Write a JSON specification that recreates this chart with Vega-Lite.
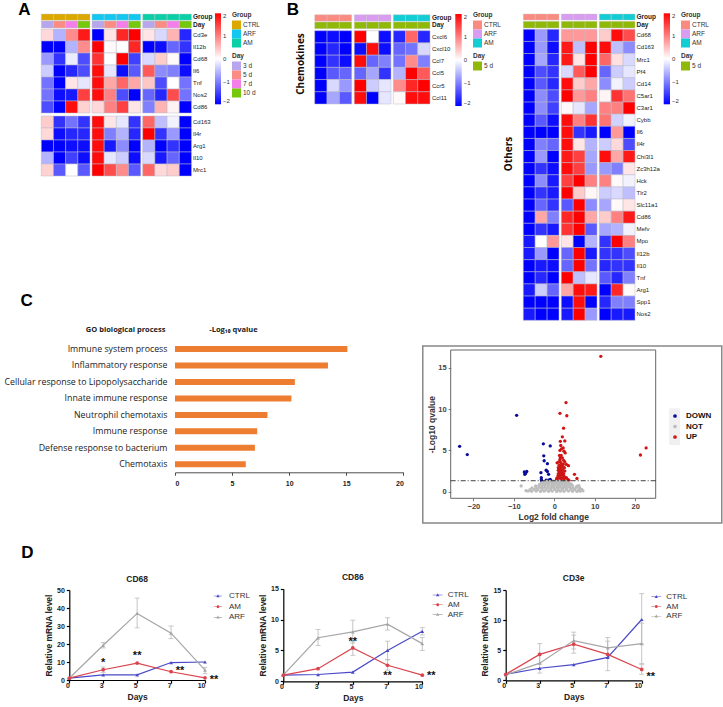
{"$schema":"https://vega.github.io/schema/vega-lite/v6.json","width":723,"height":707,"padding":0,"autosize":{"type":"fit","contains":"padding"},"background":"white",
"config":{"font":"Liberation Sans","view":{"stroke":null},"axis":{"grid":false,"tickColor":"#000","domainColor":"#000","domainWidth":1.2,"tickWidth":1.2,"tickSize":3,"labelFontSize":7,"labelFontWeight":"bold","titleFontSize":8.5,"titleFontWeight":"bold","labelPadding":2,"titlePadding":3,"labelColor":"#222","titleColor":"#222"},"legend":{"titleFontSize":6.5,"titleFontWeight":"bold","titleColor":"#333","labelFontSize":6.5,"labelColor":"#333","symbolType":"square","symbolSize":81,"rowPadding":0,"symbolStrokeWidth":0,"titlePadding":2,"symbolOpacity":1,"labelOffset":2,"gradientStrokeWidth":0}},
"datasets":{
"Acols":[{"group":"CTRL","day":"3 d"},{"group":"CTRL","day":"5 d"},{"group":"CTRL","day":"7 d"},{"group":"CTRL","day":"10 d"},{"group":"ARF","day":"3 d"},{"group":"ARF","day":"5 d"},{"group":"ARF","day":"7 d"},{"group":"ARF","day":"10 d"},{"group":"AM","day":"3 d"},{"group":"AM","day":"5 d"},{"group":"AM","day":"7 d"},{"group":"AM","day":"10 d"}],
"Bcols":[{"group":"CTRL","rep":1,"day":"5 d"},{"group":"CTRL","rep":2,"day":"5 d"},{"group":"CTRL","rep":3,"day":"5 d"},{"group":"ARF","rep":1,"day":"5 d"},{"group":"ARF","rep":2,"day":"5 d"},{"group":"ARF","rep":3,"day":"5 d"},{"group":"AM","rep":1,"day":"5 d"},{"group":"AM","rep":2,"day":"5 d"},{"group":"AM","rep":3,"day":"5 d"}],
"A1":[
{"gene":"Cd3e","group":"CTRL","day":"3 d","z":0.3},{"gene":"Cd3e","group":"CTRL","day":"5 d","z":-0.6},{"gene":"Cd3e","group":"CTRL","day":"7 d","z":0.9},{"gene":"Cd3e","group":"CTRL","day":"10 d","z":1.8},{"gene":"Cd3e","group":"ARF","day":"3 d","z":-2},{"gene":"Cd3e","group":"ARF","day":"5 d","z":0.2},{"gene":"Cd3e","group":"ARF","day":"7 d","z":1.7},{"gene":"Cd3e","group":"ARF","day":"10 d","z":2},{"gene":"Cd3e","group":"AM","day":"3 d","z":0.2},{"gene":"Cd3e","group":"AM","day":"5 d","z":-0.3},{"gene":"Cd3e","group":"AM","day":"7 d","z":0.6},{"gene":"Cd3e","group":"AM","day":"10 d","z":-1.7},
{"gene":"Il12b","group":"CTRL","day":"3 d","z":-2},{"gene":"Il12b","group":"CTRL","day":"5 d","z":-2},{"gene":"Il12b","group":"CTRL","day":"7 d","z":-0.6},{"gene":"Il12b","group":"CTRL","day":"10 d","z":0.9},{"gene":"Il12b","group":"ARF","day":"3 d","z":2},{"gene":"Il12b","group":"ARF","day":"5 d","z":0.05},{"gene":"Il12b","group":"ARF","day":"7 d","z":0},{"gene":"Il12b","group":"ARF","day":"10 d","z":1.7},{"gene":"Il12b","group":"AM","day":"3 d","z":-2},{"gene":"Il12b","group":"AM","day":"5 d","z":-1.9},{"gene":"Il12b","group":"AM","day":"7 d","z":-1.2},{"gene":"Il12b","group":"AM","day":"10 d","z":-1.6},
{"gene":"Cd68","group":"CTRL","day":"3 d","z":-0.8},{"gene":"Cd68","group":"CTRL","day":"5 d","z":-1.6},{"gene":"Cd68","group":"CTRL","day":"7 d","z":-0.15},{"gene":"Cd68","group":"CTRL","day":"10 d","z":-1.4},{"gene":"Cd68","group":"ARF","day":"3 d","z":1.6},{"gene":"Cd68","group":"ARF","day":"5 d","z":0},{"gene":"Cd68","group":"ARF","day":"7 d","z":2},{"gene":"Cd68","group":"ARF","day":"10 d","z":-1.5},{"gene":"Cd68","group":"AM","day":"3 d","z":-0.3},{"gene":"Cd68","group":"AM","day":"5 d","z":0.4},{"gene":"Cd68","group":"AM","day":"7 d","z":0.05},{"gene":"Cd68","group":"AM","day":"10 d","z":-2},
{"gene":"Il6","group":"CTRL","day":"3 d","z":-0.4},{"gene":"Il6","group":"CTRL","day":"5 d","z":-2},{"gene":"Il6","group":"CTRL","day":"7 d","z":-1.7},{"gene":"Il6","group":"CTRL","day":"10 d","z":-1.4},{"gene":"Il6","group":"ARF","day":"3 d","z":1.9},{"gene":"Il6","group":"ARF","day":"5 d","z":-0.2},{"gene":"Il6","group":"ARF","day":"7 d","z":-1.9},{"gene":"Il6","group":"ARF","day":"10 d","z":-1.3},{"gene":"Il6","group":"AM","day":"3 d","z":1.3},{"gene":"Il6","group":"AM","day":"5 d","z":-0.9},{"gene":"Il6","group":"AM","day":"7 d","z":-1},{"gene":"Il6","group":"AM","day":"10 d","z":-1.9},
{"gene":"Tnf","group":"CTRL","day":"3 d","z":-1.1},{"gene":"Tnf","group":"CTRL","day":"5 d","z":-2},{"gene":"Tnf","group":"CTRL","day":"7 d","z":0.2},{"gene":"Tnf","group":"CTRL","day":"10 d","z":-0.2},{"gene":"Tnf","group":"ARF","day":"3 d","z":1.9},{"gene":"Tnf","group":"ARF","day":"5 d","z":0.7},{"gene":"Tnf","group":"ARF","day":"7 d","z":1.2},{"gene":"Tnf","group":"ARF","day":"10 d","z":0.7},{"gene":"Tnf","group":"AM","day":"3 d","z":0.45},{"gene":"Tnf","group":"AM","day":"5 d","z":-1.4},{"gene":"Tnf","group":"AM","day":"7 d","z":0},{"gene":"Tnf","group":"AM","day":"10 d","z":-1.1},
{"gene":"Nos2","group":"CTRL","day":"3 d","z":-1.1},{"gene":"Nos2","group":"CTRL","day":"5 d","z":-1.9},{"gene":"Nos2","group":"CTRL","day":"7 d","z":-1.8},{"gene":"Nos2","group":"CTRL","day":"10 d","z":1.5},{"gene":"Nos2","group":"ARF","day":"3 d","z":1.9},{"gene":"Nos2","group":"ARF","day":"5 d","z":1},{"gene":"Nos2","group":"ARF","day":"7 d","z":-1.4},{"gene":"Nos2","group":"ARF","day":"10 d","z":-2},{"gene":"Nos2","group":"AM","day":"3 d","z":-1.2},{"gene":"Nos2","group":"AM","day":"5 d","z":-1.7},{"gene":"Nos2","group":"AM","day":"7 d","z":1.4},{"gene":"Nos2","group":"AM","day":"10 d","z":-1.1},
{"gene":"Cd86","group":"CTRL","day":"3 d","z":-1.4},{"gene":"Cd86","group":"CTRL","day":"5 d","z":-2},{"gene":"Cd86","group":"CTRL","day":"7 d","z":1.9},{"gene":"Cd86","group":"CTRL","day":"10 d","z":0.35},{"gene":"Cd86","group":"ARF","day":"3 d","z":0.3},{"gene":"Cd86","group":"ARF","day":"5 d","z":1},{"gene":"Cd86","group":"ARF","day":"7 d","z":1.5},{"gene":"Cd86","group":"ARF","day":"10 d","z":0.2},{"gene":"Cd86","group":"AM","day":"3 d","z":-1},{"gene":"Cd86","group":"AM","day":"5 d","z":0.6},{"gene":"Cd86","group":"AM","day":"7 d","z":0.1},{"gene":"Cd86","group":"AM","day":"10 d","z":-2}],
"A2":[
{"gene":"Cd163","group":"CTRL","day":"3 d","z":0.4},{"gene":"Cd163","group":"CTRL","day":"5 d","z":-1.6},{"gene":"Cd163","group":"CTRL","day":"7 d","z":-1.1},{"gene":"Cd163","group":"CTRL","day":"10 d","z":-1.6},{"gene":"Cd163","group":"ARF","day":"3 d","z":1.9},{"gene":"Cd163","group":"ARF","day":"5 d","z":0.2},{"gene":"Cd163","group":"ARF","day":"7 d","z":-0.2},{"gene":"Cd163","group":"ARF","day":"10 d","z":-1.6},{"gene":"Cd163","group":"AM","day":"3 d","z":1.2},{"gene":"Cd163","group":"AM","day":"5 d","z":-0.5},{"gene":"Cd163","group":"AM","day":"7 d","z":-0.1},{"gene":"Cd163","group":"AM","day":"10 d","z":-2},
{"gene":"Il4r","group":"CTRL","day":"3 d","z":0.3},{"gene":"Il4r","group":"CTRL","day":"5 d","z":-1.9},{"gene":"Il4r","group":"CTRL","day":"7 d","z":-1.7},{"gene":"Il4r","group":"CTRL","day":"10 d","z":-1.7},{"gene":"Il4r","group":"ARF","day":"3 d","z":1.9},{"gene":"Il4r","group":"ARF","day":"5 d","z":-1},{"gene":"Il4r","group":"ARF","day":"7 d","z":-0.6},{"gene":"Il4r","group":"ARF","day":"10 d","z":-1.7},{"gene":"Il4r","group":"AM","day":"3 d","z":2},{"gene":"Il4r","group":"AM","day":"5 d","z":-1.6},{"gene":"Il4r","group":"AM","day":"7 d","z":-0.8},{"gene":"Il4r","group":"AM","day":"10 d","z":-2},
{"gene":"Arg1","group":"CTRL","day":"3 d","z":-2},{"gene":"Arg1","group":"CTRL","day":"5 d","z":-2},{"gene":"Arg1","group":"CTRL","day":"7 d","z":-1.9},{"gene":"Arg1","group":"CTRL","day":"10 d","z":-1.9},{"gene":"Arg1","group":"ARF","day":"3 d","z":1.9},{"gene":"Arg1","group":"ARF","day":"5 d","z":-1.8},{"gene":"Arg1","group":"ARF","day":"7 d","z":-0.9},{"gene":"Arg1","group":"ARF","day":"10 d","z":-2},{"gene":"Arg1","group":"AM","day":"3 d","z":-0.6},{"gene":"Arg1","group":"AM","day":"5 d","z":-2},{"gene":"Arg1","group":"AM","day":"7 d","z":-1.6},{"gene":"Arg1","group":"AM","day":"10 d","z":-2},
{"gene":"Il10","group":"CTRL","day":"3 d","z":-0.6},{"gene":"Il10","group":"CTRL","day":"5 d","z":-2},{"gene":"Il10","group":"CTRL","day":"7 d","z":-1.5},{"gene":"Il10","group":"CTRL","day":"10 d","z":-1.9},{"gene":"Il10","group":"ARF","day":"3 d","z":1.9},{"gene":"Il10","group":"ARF","day":"5 d","z":-0.2},{"gene":"Il10","group":"ARF","day":"7 d","z":-0.4},{"gene":"Il10","group":"ARF","day":"10 d","z":-1.9},{"gene":"Il10","group":"AM","day":"3 d","z":-0.3},{"gene":"Il10","group":"AM","day":"5 d","z":-1.8},{"gene":"Il10","group":"AM","day":"7 d","z":-1.2},{"gene":"Il10","group":"AM","day":"10 d","z":-2},
{"gene":"Mrc1","group":"CTRL","day":"3 d","z":0.35},{"gene":"Mrc1","group":"CTRL","day":"5 d","z":-1.3},{"gene":"Mrc1","group":"CTRL","day":"7 d","z":0},{"gene":"Mrc1","group":"CTRL","day":"10 d","z":-1.3},{"gene":"Mrc1","group":"ARF","day":"3 d","z":2},{"gene":"Mrc1","group":"ARF","day":"5 d","z":1.4},{"gene":"Mrc1","group":"ARF","day":"7 d","z":0.9},{"gene":"Mrc1","group":"ARF","day":"10 d","z":-1.3},{"gene":"Mrc1","group":"AM","day":"3 d","z":1.2},{"gene":"Mrc1","group":"AM","day":"5 d","z":0.3},{"gene":"Mrc1","group":"AM","day":"7 d","z":0.4},{"gene":"Mrc1","group":"AM","day":"10 d","z":-2}],
"Chem":[
{"gene":"Cxcl6","group":"CTRL","rep":1,"z":-2},{"gene":"Cxcl6","group":"CTRL","rep":2,"z":-1.9},{"gene":"Cxcl6","group":"CTRL","rep":3,"z":-2},{"gene":"Cxcl6","group":"ARF","rep":1,"z":2},{"gene":"Cxcl6","group":"ARF","rep":2,"z":0},{"gene":"Cxcl6","group":"ARF","rep":3,"z":-1.9},{"gene":"Cxcl6","group":"AM","rep":1,"z":-1.7},{"gene":"Cxcl6","group":"AM","rep":2,"z":1.2},{"gene":"Cxcl6","group":"AM","rep":3,"z":-1.7},
{"gene":"Cxcl10","group":"CTRL","rep":1,"z":-2},{"gene":"Cxcl10","group":"CTRL","rep":2,"z":-1.7},{"gene":"Cxcl10","group":"CTRL","rep":3,"z":-2},{"gene":"Cxcl10","group":"ARF","rep":1,"z":-1.9},{"gene":"Cxcl10","group":"ARF","rep":2,"z":1.9},{"gene":"Cxcl10","group":"ARF","rep":3,"z":-1.9},{"gene":"Cxcl10","group":"AM","rep":1,"z":-1.2},{"gene":"Cxcl10","group":"AM","rep":2,"z":-1.1},{"gene":"Cxcl10","group":"AM","rep":3,"z":-0.3},
{"gene":"Ccl7","group":"CTRL","rep":1,"z":-2},{"gene":"Ccl7","group":"CTRL","rep":2,"z":-1.6},{"gene":"Ccl7","group":"CTRL","rep":3,"z":-1.9},{"gene":"Ccl7","group":"ARF","rep":1,"z":1.9},{"gene":"Ccl7","group":"ARF","rep":2,"z":-1.2},{"gene":"Ccl7","group":"ARF","rep":3,"z":-1},{"gene":"Ccl7","group":"AM","rep":1,"z":-1.1},{"gene":"Ccl7","group":"AM","rep":2,"z":0.9},{"gene":"Ccl7","group":"AM","rep":3,"z":-1},
{"gene":"Ccl5","group":"CTRL","rep":1,"z":-2},{"gene":"Ccl5","group":"CTRL","rep":2,"z":-1.3},{"gene":"Ccl5","group":"CTRL","rep":3,"z":-1.2},{"gene":"Ccl5","group":"ARF","rep":1,"z":-1.2},{"gene":"Ccl5","group":"ARF","rep":2,"z":-0.7},{"gene":"Ccl5","group":"ARF","rep":3,"z":-1.6},{"gene":"Ccl5","group":"AM","rep":1,"z":-0.6},{"gene":"Ccl5","group":"AM","rep":2,"z":2},{"gene":"Ccl5","group":"AM","rep":3,"z":1.3},
{"gene":"Ccr5","group":"CTRL","rep":1,"z":-2},{"gene":"Ccr5","group":"CTRL","rep":2,"z":-0.3},{"gene":"Ccr5","group":"CTRL","rep":3,"z":-0.8},{"gene":"Ccr5","group":"ARF","rep":1,"z":2},{"gene":"Ccr5","group":"ARF","rep":2,"z":-0.4},{"gene":"Ccr5","group":"ARF","rep":3,"z":-0.2},{"gene":"Ccr5","group":"AM","rep":1,"z":0.9},{"gene":"Ccr5","group":"AM","rep":2,"z":1.7},{"gene":"Ccr5","group":"AM","rep":3,"z":2},
{"gene":"Ccl11","group":"CTRL","rep":1,"z":-2},{"gene":"Ccl11","group":"CTRL","rep":2,"z":-0.7},{"gene":"Ccl11","group":"CTRL","rep":3,"z":-1.3},{"gene":"Ccl11","group":"ARF","rep":1,"z":1.9},{"gene":"Ccl11","group":"ARF","rep":2,"z":-2},{"gene":"Ccl11","group":"ARF","rep":3,"z":-0.2},{"gene":"Ccl11","group":"AM","rep":1,"z":0.05},{"gene":"Ccl11","group":"AM","rep":2,"z":1.9},{"gene":"Ccl11","group":"AM","rep":3,"z":1.9}],
"Oth":[
{"gene":"Cd68","group":"CTRL","rep":1,"z":-2},{"gene":"Cd68","group":"CTRL","rep":2,"z":-0.8},{"gene":"Cd68","group":"CTRL","rep":3,"z":-1.7},{"gene":"Cd68","group":"ARF","rep":1,"z":0.8},{"gene":"Cd68","group":"ARF","rep":2,"z":0.8},{"gene":"Cd68","group":"ARF","rep":3,"z":0.8},{"gene":"Cd68","group":"AM","rep":1,"z":0.4},{"gene":"Cd68","group":"AM","rep":2,"z":1.9},{"gene":"Cd68","group":"AM","rep":3,"z":1.4},
{"gene":"Cd163","group":"CTRL","rep":1,"z":-2},{"gene":"Cd163","group":"CTRL","rep":2,"z":-0.8},{"gene":"Cd163","group":"CTRL","rep":3,"z":-1.9},{"gene":"Cd163","group":"ARF","rep":1,"z":1.8},{"gene":"Cd163","group":"ARF","rep":2,"z":-0.5},{"gene":"Cd163","group":"ARF","rep":3,"z":2},{"gene":"Cd163","group":"AM","rep":1,"z":1.9},{"gene":"Cd163","group":"AM","rep":2,"z":-0.5},{"gene":"Cd163","group":"AM","rep":3,"z":-0.9},
{"gene":"Mrc1","group":"CTRL","rep":1,"z":-2},{"gene":"Mrc1","group":"CTRL","rep":2,"z":-0.7},{"gene":"Mrc1","group":"CTRL","rep":3,"z":-1.7},{"gene":"Mrc1","group":"ARF","rep":1,"z":1.8},{"gene":"Mrc1","group":"ARF","rep":2,"z":0.2},{"gene":"Mrc1","group":"ARF","rep":3,"z":2},{"gene":"Mrc1","group":"AM","rep":1,"z":1.2},{"gene":"Mrc1","group":"AM","rep":2,"z":0.25},{"gene":"Mrc1","group":"AM","rep":3,"z":-0.3},
{"gene":"Pf4","group":"CTRL","rep":1,"z":-2},{"gene":"Pf4","group":"CTRL","rep":2,"z":-1.4},{"gene":"Pf4","group":"CTRL","rep":3,"z":-1.6},{"gene":"Pf4","group":"ARF","rep":1,"z":-0.3},{"gene":"Pf4","group":"ARF","rep":2,"z":1.3},{"gene":"Pf4","group":"ARF","rep":3,"z":2},{"gene":"Pf4","group":"AM","rep":1,"z":-1.2},{"gene":"Pf4","group":"AM","rep":2,"z":-0.4},{"gene":"Pf4","group":"AM","rep":3,"z":-0.2},
{"gene":"Cd14","group":"CTRL","rep":1,"z":-2},{"gene":"Cd14","group":"CTRL","rep":2,"z":-1.3},{"gene":"Cd14","group":"CTRL","rep":3,"z":-1.7},{"gene":"Cd14","group":"ARF","rep":1,"z":1.9},{"gene":"Cd14","group":"ARF","rep":2,"z":0.4},{"gene":"Cd14","group":"ARF","rep":3,"z":0.7},{"gene":"Cd14","group":"AM","rep":1,"z":-0.9},{"gene":"Cd14","group":"AM","rep":2,"z":-0.1},{"gene":"Cd14","group":"AM","rep":3,"z":-0.4},
{"gene":"C5ar1","group":"CTRL","rep":1,"z":-2},{"gene":"C5ar1","group":"CTRL","rep":2,"z":-0.9},{"gene":"C5ar1","group":"CTRL","rep":3,"z":-1.4},{"gene":"C5ar1","group":"ARF","rep":1,"z":2},{"gene":"C5ar1","group":"ARF","rep":2,"z":0.8},{"gene":"C5ar1","group":"ARF","rep":3,"z":1},{"gene":"C5ar1","group":"AM","rep":1,"z":0.08},{"gene":"C5ar1","group":"AM","rep":2,"z":1.6},{"gene":"C5ar1","group":"AM","rep":3,"z":1.1},
{"gene":"C3ar1","group":"CTRL","rep":1,"z":-2},{"gene":"C3ar1","group":"CTRL","rep":2,"z":-0.9},{"gene":"C3ar1","group":"CTRL","rep":3,"z":-1.5},{"gene":"C3ar1","group":"ARF","rep":1,"z":0.05},{"gene":"C3ar1","group":"ARF","rep":2,"z":-0.2},{"gene":"C3ar1","group":"ARF","rep":3,"z":-0.7},{"gene":"C3ar1","group":"AM","rep":1,"z":1},{"gene":"C3ar1","group":"AM","rep":2,"z":1},{"gene":"C3ar1","group":"AM","rep":3,"z":2},
{"gene":"Cybb","group":"CTRL","rep":1,"z":-2},{"gene":"Cybb","group":"CTRL","rep":2,"z":-1.3},{"gene":"Cybb","group":"CTRL","rep":3,"z":-1.9},{"gene":"Cybb","group":"ARF","rep":1,"z":1.9},{"gene":"Cybb","group":"ARF","rep":2,"z":1},{"gene":"Cybb","group":"ARF","rep":3,"z":1.6},{"gene":"Cybb","group":"AM","rep":1,"z":1.1},{"gene":"Cybb","group":"AM","rep":2,"z":-0.35},{"gene":"Cybb","group":"AM","rep":3,"z":-0.1},
{"gene":"Il6","group":"CTRL","rep":1,"z":-2},{"gene":"Il6","group":"CTRL","rep":2,"z":-2},{"gene":"Il6","group":"CTRL","rep":3,"z":-2},{"gene":"Il6","group":"ARF","rep":1,"z":1.9},{"gene":"Il6","group":"ARF","rep":2,"z":-1.6},{"gene":"Il6","group":"ARF","rep":3,"z":-1.8},{"gene":"Il6","group":"AM","rep":1,"z":-2},{"gene":"Il6","group":"AM","rep":2,"z":0.8},{"gene":"Il6","group":"AM","rep":3,"z":-2},
{"gene":"Il4r","group":"CTRL","rep":1,"z":-2},{"gene":"Il4r","group":"CTRL","rep":2,"z":-1},{"gene":"Il4r","group":"CTRL","rep":3,"z":-1.2},{"gene":"Il4r","group":"ARF","rep":1,"z":1.9},{"gene":"Il4r","group":"ARF","rep":2,"z":0.2},{"gene":"Il4r","group":"ARF","rep":3,"z":-0.6},{"gene":"Il4r","group":"AM","rep":1,"z":-0.4},{"gene":"Il4r","group":"AM","rep":2,"z":0.3},{"gene":"Il4r","group":"AM","rep":3,"z":-1.4},
{"gene":"Chi3l1","group":"CTRL","rep":1,"z":-2},{"gene":"Chi3l1","group":"CTRL","rep":2,"z":-0.8},{"gene":"Chi3l1","group":"CTRL","rep":3,"z":-2},{"gene":"Chi3l1","group":"ARF","rep":1,"z":1.8},{"gene":"Chi3l1","group":"ARF","rep":2,"z":1.5},{"gene":"Chi3l1","group":"ARF","rep":3,"z":-0.7},{"gene":"Chi3l1","group":"AM","rep":1,"z":1.9},{"gene":"Chi3l1","group":"AM","rep":2,"z":0.7},{"gene":"Chi3l1","group":"AM","rep":3,"z":1.8},
{"gene":"Zc3h12a","group":"CTRL","rep":1,"z":-2},{"gene":"Zc3h12a","group":"CTRL","rep":2,"z":-1.6},{"gene":"Zc3h12a","group":"CTRL","rep":3,"z":-1.9},{"gene":"Zc3h12a","group":"ARF","rep":1,"z":1.9},{"gene":"Zc3h12a","group":"ARF","rep":2,"z":1.5},{"gene":"Zc3h12a","group":"ARF","rep":3,"z":-0.8},{"gene":"Zc3h12a","group":"AM","rep":1,"z":-0.8},{"gene":"Zc3h12a","group":"AM","rep":2,"z":-1},{"gene":"Zc3h12a","group":"AM","rep":3,"z":0.2},
{"gene":"Hck","group":"CTRL","rep":1,"z":-2},{"gene":"Hck","group":"CTRL","rep":2,"z":-0.9},{"gene":"Hck","group":"CTRL","rep":3,"z":-1.8},{"gene":"Hck","group":"ARF","rep":1,"z":1.5},{"gene":"Hck","group":"ARF","rep":2,"z":2},{"gene":"Hck","group":"ARF","rep":3,"z":1},{"gene":"Hck","group":"AM","rep":1,"z":1},{"gene":"Hck","group":"AM","rep":2,"z":0.05},{"gene":"Hck","group":"AM","rep":3,"z":-0.1},
{"gene":"Tlr2","group":"CTRL","rep":1,"z":-2},{"gene":"Tlr2","group":"CTRL","rep":2,"z":-1.6},{"gene":"Tlr2","group":"CTRL","rep":3,"z":-1.8},{"gene":"Tlr2","group":"ARF","rep":1,"z":2},{"gene":"Tlr2","group":"ARF","rep":2,"z":0.4},{"gene":"Tlr2","group":"ARF","rep":3,"z":0.07},{"gene":"Tlr2","group":"AM","rep":1,"z":-0.4},{"gene":"Tlr2","group":"AM","rep":2,"z":-0.3},{"gene":"Tlr2","group":"AM","rep":3,"z":-0.5},
{"gene":"Slc11a1","group":"CTRL","rep":1,"z":-2},{"gene":"Slc11a1","group":"CTRL","rep":2,"z":-1.2},{"gene":"Slc11a1","group":"CTRL","rep":3,"z":-1.6},{"gene":"Slc11a1","group":"ARF","rep":1,"z":-1.3},{"gene":"Slc11a1","group":"ARF","rep":2,"z":2},{"gene":"Slc11a1","group":"ARF","rep":3,"z":-0.9},{"gene":"Slc11a1","group":"AM","rep":1,"z":-0.7},{"gene":"Slc11a1","group":"AM","rep":2,"z":0.05},{"gene":"Slc11a1","group":"AM","rep":3,"z":0.2},
{"gene":"Cd86","group":"CTRL","rep":1,"z":-2},{"gene":"Cd86","group":"CTRL","rep":2,"z":0.7},{"gene":"Cd86","group":"CTRL","rep":3,"z":-1},{"gene":"Cd86","group":"ARF","rep":1,"z":1.7},{"gene":"Cd86","group":"ARF","rep":2,"z":2},{"gene":"Cd86","group":"ARF","rep":3,"z":0.7},{"gene":"Cd86","group":"AM","rep":1,"z":0.4},{"gene":"Cd86","group":"AM","rep":2,"z":1},{"gene":"Cd86","group":"AM","rep":3,"z":1.8},
{"gene":"Mefv","group":"CTRL","rep":1,"z":-2},{"gene":"Mefv","group":"CTRL","rep":2,"z":-1.6},{"gene":"Mefv","group":"CTRL","rep":3,"z":-1.8},{"gene":"Mefv","group":"ARF","rep":1,"z":1.6},{"gene":"Mefv","group":"ARF","rep":2,"z":2},{"gene":"Mefv","group":"ARF","rep":3,"z":-1.3},{"gene":"Mefv","group":"AM","rep":1,"z":-0.7},{"gene":"Mefv","group":"AM","rep":2,"z":-0.6},{"gene":"Mefv","group":"AM","rep":3,"z":-0.1},
{"gene":"Mpo","group":"CTRL","rep":1,"z":-1.8},{"gene":"Mpo","group":"CTRL","rep":2,"z":0},{"gene":"Mpo","group":"CTRL","rep":3,"z":0.8},{"gene":"Mpo","group":"ARF","rep":1,"z":0.2},{"gene":"Mpo","group":"ARF","rep":2,"z":-2},{"gene":"Mpo","group":"ARF","rep":3,"z":-0.6},{"gene":"Mpo","group":"AM","rep":1,"z":-1.6},{"gene":"Mpo","group":"AM","rep":2,"z":2},{"gene":"Mpo","group":"AM","rep":3,"z":1},
{"gene":"Il12b","group":"CTRL","rep":1,"z":-1.8},{"gene":"Il12b","group":"CTRL","rep":2,"z":-0.8},{"gene":"Il12b","group":"CTRL","rep":3,"z":-2},{"gene":"Il12b","group":"ARF","rep":1,"z":-1.2},{"gene":"Il12b","group":"ARF","rep":2,"z":2},{"gene":"Il12b","group":"ARF","rep":3,"z":-1.8},{"gene":"Il12b","group":"AM","rep":1,"z":-1.6},{"gene":"Il12b","group":"AM","rep":2,"z":-1.6},{"gene":"Il12b","group":"AM","rep":3,"z":-1.4},
{"gene":"Il10","group":"CTRL","rep":1,"z":-2},{"gene":"Il10","group":"CTRL","rep":2,"z":-1.8},{"gene":"Il10","group":"CTRL","rep":3,"z":-1.9},{"gene":"Il10","group":"ARF","rep":1,"z":-1.2},{"gene":"Il10","group":"ARF","rep":2,"z":2},{"gene":"Il10","group":"ARF","rep":3,"z":-1.1},{"gene":"Il10","group":"AM","rep":1,"z":-1.7},{"gene":"Il10","group":"AM","rep":2,"z":-1.6},{"gene":"Il10","group":"AM","rep":3,"z":-1.6},
{"gene":"Tnf","group":"CTRL","rep":1,"z":-2},{"gene":"Tnf","group":"CTRL","rep":2,"z":-1.7},{"gene":"Tnf","group":"CTRL","rep":3,"z":-2},{"gene":"Tnf","group":"ARF","rep":1,"z":2},{"gene":"Tnf","group":"ARF","rep":2,"z":-0.5},{"gene":"Tnf","group":"ARF","rep":3,"z":-0.2},{"gene":"Tnf","group":"AM","rep":1,"z":-1.3},{"gene":"Tnf","group":"AM","rep":2,"z":-1.7},{"gene":"Tnf","group":"AM","rep":3,"z":-1},
{"gene":"Arg1","group":"CTRL","rep":1,"z":-1.8},{"gene":"Arg1","group":"CTRL","rep":2,"z":-0.4},{"gene":"Arg1","group":"CTRL","rep":3,"z":-1.2},{"gene":"Arg1","group":"ARF","rep":1,"z":0.7},{"gene":"Arg1","group":"ARF","rep":2,"z":1.9},{"gene":"Arg1","group":"ARF","rep":3,"z":1.8},{"gene":"Arg1","group":"AM","rep":1,"z":-2},{"gene":"Arg1","group":"AM","rep":2,"z":1.7},{"gene":"Arg1","group":"AM","rep":3,"z":0.05},
{"gene":"Spp1","group":"CTRL","rep":1,"z":-2},{"gene":"Spp1","group":"CTRL","rep":2,"z":-2},{"gene":"Spp1","group":"CTRL","rep":3,"z":-2},{"gene":"Spp1","group":"ARF","rep":1,"z":-1.9},{"gene":"Spp1","group":"ARF","rep":2,"z":1.9},{"gene":"Spp1","group":"ARF","rep":3,"z":-2},{"gene":"Spp1","group":"AM","rep":1,"z":-1.7},{"gene":"Spp1","group":"AM","rep":2,"z":-1},{"gene":"Spp1","group":"AM","rep":3,"z":-1},
{"gene":"Nos2","group":"CTRL","rep":1,"z":-1.8},{"gene":"Nos2","group":"CTRL","rep":2,"z":-2},{"gene":"Nos2","group":"CTRL","rep":3,"z":-2},{"gene":"Nos2","group":"ARF","rep":1,"z":-1.8},{"gene":"Nos2","group":"ARF","rep":2,"z":2},{"gene":"Nos2","group":"ARF","rep":3,"z":-0.8},{"gene":"Nos2","group":"AM","rep":1,"z":-2},{"gene":"Nos2","group":"AM","rep":2,"z":-1.8},{"gene":"Nos2","group":"AM","rep":3,"z":-1.8}],
"volcano":[
{"fc":11.5,"q":16.4,"status":"UP"},{"fc":2.9,"q":10.8,"status":"UP"},{"fc":1.4,"q":9.5,"status":"UP"},{"fc":3.1,"q":9.2,"status":"UP"},{"fc":2.3,"q":7.7,"status":"UP"},{"fc":2.0,"q":6.65,"status":"UP"},{"fc":1.5,"q":6.1,"status":"UP"},{"fc":2.6,"q":6.15,"status":"UP"},{"fc":21.3,"q":4.45,"status":"UP"},{"fc":22.7,"q":5.3,"status":"UP"},{"fc":1.6,"q":5.6,"status":"UP"},{"fc":1.8,"q":5.2,"status":"UP"},{"fc":2.2,"q":5.3,"status":"UP"},{"fc":2.4,"q":4.9,"status":"UP"},{"fc":2.7,"q":4.7,"status":"UP"},{"fc":1.4,"q":5.0,"status":"UP"},{"fc":1.3,"q":4.4,"status":"UP"},{"fc":1.5,"q":4.1,"status":"UP"},{"fc":2.0,"q":4.1,"status":"UP"},{"fc":2.3,"q":3.8,"status":"UP"},{"fc":2.6,"q":3.6,"status":"UP"},{"fc":3.0,"q":3.3,"status":"UP"},{"fc":3.5,"q":3.15,"status":"UP"},{"fc":0.7,"q":3.5,"status":"UP"},{"fc":1.1,"q":3.6,"status":"UP"},{"fc":1.5,"q":3.6,"status":"UP"},{"fc":1.8,"q":3.4,"status":"UP"},{"fc":2.2,"q":3.3,"status":"UP"},{"fc":1.2,"q":3.2,"status":"UP"},{"fc":1.6,"q":3.1,"status":"UP"},{"fc":2.0,"q":3.0,"status":"UP"},{"fc":2.5,"q":2.9,"status":"UP"},{"fc":1.0,"q":2.9,"status":"UP"},{"fc":1.4,"q":2.8,"status":"UP"},{"fc":1.7,"q":2.7,"status":"UP"},{"fc":2.1,"q":2.6,"status":"UP"},{"fc":2.6,"q":2.5,"status":"UP"},{"fc":1.2,"q":2.5,"status":"UP"},{"fc":1.5,"q":2.4,"status":"UP"},{"fc":1.9,"q":2.3,"status":"UP"},{"fc":2.3,"q":2.2,"status":"UP"},{"fc":1.0,"q":2.2,"status":"UP"},{"fc":1.3,"q":2.1,"status":"UP"},{"fc":1.6,"q":2.0,"status":"UP"},{"fc":2.0,"q":2.0,"status":"UP"},{"fc":2.4,"q":1.9,"status":"UP"},{"fc":0.9,"q":1.9,"status":"UP"},{"fc":1.2,"q":1.8,"status":"UP"},{"fc":1.5,"q":1.7,"status":"UP"},{"fc":1.8,"q":1.6,"status":"UP"},{"fc":2.2,"q":1.6,"status":"UP"},{"fc":2.6,"q":1.7,"status":"UP"},{"fc":3.0,"q":1.7,"status":"UP"},{"fc":0.6,"q":1.6,"status":"UP"},{"fc":0.9,"q":1.5,"status":"UP"},{"fc":1.3,"q":1.45,"status":"UP"},{"fc":1.7,"q":1.4,"status":"UP"},{"fc":2.1,"q":1.4,"status":"UP"},{"fc":2.5,"q":1.4,"status":"UP"},{"fc":3.0,"q":1.4,"status":"UP"},{"fc":3.3,"q":1.5,"status":"UP"},{"fc":5.0,"q":2.1,"status":"UP"},{"fc":5.6,"q":1.6,"status":"UP"},{"fc":0.5,"q":1.4,"status":"UP"},{"fc":1.1,"q":1.35,"status":"UP"},{"fc":3.6,"q":1.4,"status":"UP"},{"fc":1.0,"q":2.6,"status":"UP"},{"fc":1.8,"q":3.0,"status":"UP"},{"fc":1.4,"q":3.9,"status":"UP"},{"fc":1.7,"q":4.4,"status":"UP"},
{"fc":-23.4,"q":5.5,"status":"DOWN"},{"fc":-21.5,"q":4.5,"status":"DOWN"},{"fc":-9.3,"q":9.25,"status":"DOWN"},{"fc":-2.7,"q":5.8,"status":"DOWN"},{"fc":-1.0,"q":5.55,"status":"DOWN"},{"fc":-2.6,"q":4.35,"status":"DOWN"},{"fc":-2.5,"q":3.75,"status":"DOWN"},{"fc":-1.7,"q":3.4,"status":"DOWN"},{"fc":-7.4,"q":2.4,"status":"DOWN"},{"fc":-6.8,"q":2.45,"status":"DOWN"},{"fc":-7.3,"q":2.1,"status":"DOWN"},{"fc":-7.1,"q":2.2,"status":"DOWN"},{"fc":-3.3,"q":2.3,"status":"DOWN"},{"fc":-2.0,"q":2.6,"status":"DOWN"},{"fc":-1.7,"q":2.45,"status":"DOWN"},{"fc":-1.4,"q":2.1,"status":"DOWN"},{"fc":-3.2,"q":1.7,"status":"DOWN"},{"fc":-3.2,"q":1.45,"status":"DOWN"},{"fc":-3.1,"q":1.3,"status":"DOWN"},{"fc":-2.0,"q":1.4,"status":"DOWN"},{"fc":-1.0,"q":1.5,"status":"DOWN"},{"fc":-1.5,"q":1.4,"status":"DOWN"},{"fc":-0.8,"q":1.35,"status":"DOWN"},
{"fc":-6.5,"q":0.07,"status":"NOT"},{"fc":-5.6,"q":0.04,"status":"NOT"},{"fc":-4.5,"q":0.08,"status":"NOT"},{"fc":-3.4,"q":0.03,"status":"NOT"},{"fc":-2.5,"q":0.06,"status":"NOT"},{"fc":-1.4,"q":0.05,"status":"NOT"},{"fc":-0.5,"q":0.07,"status":"NOT"},{"fc":0.6,"q":0.03,"status":"NOT"},{"fc":1.5,"q":0.06,"status":"NOT"},{"fc":2.4,"q":0.04,"status":"NOT"},{"fc":3.5,"q":0.08,"status":"NOT"},{"fc":4.5,"q":0.05,"status":"NOT"},{"fc":5.6,"q":0.03,"status":"NOT"},{"fc":6.4,"q":0.06,"status":"NOT"},{"fc":7.1,"q":0.1,"status":"NOT"},
{"fc":-7.0,"q":0.12,"status":"NOT"},{"fc":-6.0,"q":0.24,"status":"NOT"},{"fc":-5.0,"q":0.28,"status":"NOT"},{"fc":-4.1,"q":0.25,"status":"NOT"},{"fc":-3.0,"q":0.3,"status":"NOT"},{"fc":-2.0,"q":0.26,"status":"NOT"},{"fc":-1.0,"q":0.24,"status":"NOT"},{"fc":0.1,"q":0.28,"status":"NOT"},{"fc":1.0,"q":0.25,"status":"NOT"},{"fc":2.0,"q":0.3,"status":"NOT"},{"fc":3.0,"q":0.26,"status":"NOT"},{"fc":4.1,"q":0.28,"status":"NOT"},{"fc":5.0,"q":0.25,"status":"NOT"},{"fc":6.0,"q":0.22,"status":"NOT"},{"fc":6.8,"q":0.28,"status":"NOT"},
{"fc":-5.5,"q":0.46,"status":"NOT"},{"fc":-4.5,"q":0.5,"status":"NOT"},{"fc":-3.7,"q":0.52,"status":"NOT"},{"fc":-3.0,"q":0.48,"status":"NOT"},{"fc":-2.3,"q":0.54,"status":"NOT"},{"fc":-1.5,"q":0.5,"status":"NOT"},{"fc":-0.7,"q":0.47,"status":"NOT"},{"fc":0.0,"q":0.52,"status":"NOT"},{"fc":0.8,"q":0.49,"status":"NOT"},{"fc":1.5,"q":0.53,"status":"NOT"},{"fc":2.3,"q":0.5,"status":"NOT"},{"fc":3.0,"q":0.47,"status":"NOT"},{"fc":3.8,"q":0.52,"status":"NOT"},{"fc":4.6,"q":0.48,"status":"NOT"},{"fc":5.4,"q":0.5,"status":"NOT"},{"fc":6.3,"q":0.45,"status":"NOT"},
{"fc":-8.2,"q":0.7,"status":"NOT"},{"fc":-4.6,"q":0.7,"status":"NOT"},{"fc":-3.8,"q":0.74,"status":"NOT"},{"fc":-3.0,"q":0.7,"status":"NOT"},{"fc":-2.3,"q":0.76,"status":"NOT"},{"fc":-1.5,"q":0.72,"status":"NOT"},{"fc":-0.7,"q":0.7,"status":"NOT"},{"fc":0.0,"q":0.75,"status":"NOT"},{"fc":0.8,"q":0.71,"status":"NOT"},{"fc":1.5,"q":0.74,"status":"NOT"},{"fc":2.3,"q":0.7,"status":"NOT"},{"fc":3.0,"q":0.73,"status":"NOT"},{"fc":3.8,"q":0.7,"status":"NOT"},{"fc":4.5,"q":0.72,"status":"NOT"},{"fc":5.6,"q":0.68,"status":"NOT"},{"fc":6.1,"q":0.72,"status":"NOT"},
{"fc":-3.6,"q":0.92,"status":"NOT"},{"fc":-2.8,"q":0.95,"status":"NOT"},{"fc":-2.1,"q":0.9,"status":"NOT"},{"fc":-1.3,"q":0.96,"status":"NOT"},{"fc":-0.5,"q":0.92,"status":"NOT"},{"fc":0.3,"q":0.95,"status":"NOT"},{"fc":1.1,"q":0.9,"status":"NOT"},{"fc":1.9,"q":0.94,"status":"NOT"},{"fc":2.7,"q":0.91,"status":"NOT"},{"fc":3.5,"q":0.95,"status":"NOT"},{"fc":4.2,"q":0.9,"status":"NOT"},
{"fc":-3.0,"q":1.1,"status":"NOT"},{"fc":-2.3,"q":1.14,"status":"NOT"},{"fc":-1.5,"q":1.1,"status":"NOT"},{"fc":-0.8,"q":1.15,"status":"NOT"},{"fc":0.0,"q":1.12,"status":"NOT"},{"fc":0.8,"q":1.1,"status":"NOT"},{"fc":1.5,"q":1.15,"status":"NOT"},{"fc":2.3,"q":1.1,"status":"NOT"},{"fc":3.0,"q":1.13,"status":"NOT"},{"fc":3.7,"q":1.08,"status":"NOT"},
{"fc":-2.5,"q":1.25,"status":"NOT"},{"fc":-1.8,"q":1.28,"status":"NOT"},{"fc":-1.0,"q":1.24,"status":"NOT"},{"fc":-0.3,"q":1.27,"status":"NOT"},{"fc":0.4,"q":1.25,"status":"NOT"},{"fc":1.2,"q":1.28,"status":"NOT"},{"fc":2.0,"q":1.24,"status":"NOT"},{"fc":2.8,"q":1.27,"status":"NOT"}],
"d68":[{"day":0,"group":"CTRL","value":1},{"day":3,"group":"CTRL","value":2.8},{"day":5,"group":"CTRL","value":2.9},{"day":7,"group":"CTRL","value":9.7},{"day":10,"group":"CTRL","value":10},{"day":0,"group":"AM","value":1},{"day":3,"group":"AM","value":5.7},{"day":5,"group":"AM","value":9.4},{"day":7,"group":"AM","value":4.6},{"day":10,"group":"AM","value":1.2},{"day":0,"group":"ARF","value":1},{"day":3,"group":"ARF","value":19.3},{"day":5,"group":"ARF","value":37},{"day":7,"group":"ARF","value":26},{"day":10,"group":"ARF","value":5.5}],
"e68":[{"day":3,"lo":17.8,"hi":20.8},{"day":5,"lo":29,"hi":45.5},{"day":7,"lo":23,"hi":30},{"day":10,"lo":3.5,"hi":7},{"day":3,"lo":4.2,"hi":7.2}],
"s68":[{"day":3,"y":11,"label":"*","nudge":"none"},{"day":5,"y":15.2,"label":"**","nudge":"none"},{"day":7,"y":6.5,"label":"**","nudge":"right"},{"day":10,"y":1.5,"label":"**","nudge":"right"}],
"d86":[{"day":0,"group":"CTRL","value":1},{"day":3,"group":"CTRL","value":1.1},{"day":5,"group":"CTRL","value":1.5},{"day":7,"group":"CTRL","value":5},{"day":10,"group":"CTRL","value":8.1},{"day":0,"group":"AM","value":1},{"day":3,"group":"AM","value":2.05},{"day":5,"group":"AM","value":5.4},{"day":7,"group":"AM","value":2.6},{"day":10,"group":"AM","value":1},{"day":0,"group":"ARF","value":1},{"day":3,"group":"ARF","value":7.05},{"day":5,"group":"ARF","value":8},{"day":7,"group":"ARF","value":9.25},{"day":10,"group":"ARF","value":6.1}],
"e86":[{"day":3,"lo":5.8,"hi":8.4},{"day":5,"lo":6.2,"hi":9.9},{"day":7,"lo":8.3,"hi":10.3},{"day":10,"lo":5,"hi":7.1},{"day":5,"lo":4.2,"hi":6.5},{"day":7,"lo":1.8,"hi":3.5},{"day":7,"lo":3.5,"hi":6.5},{"day":10,"lo":7.5,"hi":8.7}],
"s86":[{"day":5,"y":6.9,"label":"**","nudge":"none"},{"day":7,"y":1.3,"label":"**","nudge":"none"},{"day":10,"y":1.3,"label":"**","nudge":"right"}],
"d3e":[{"day":0,"group":"CTRL","value":1},{"day":3,"group":"CTRL","value":2},{"day":5,"group":"CTRL","value":2.6},{"day":7,"group":"CTRL","value":3.8},{"day":10,"group":"CTRL","value":10.1},{"day":0,"group":"AM","value":1},{"day":3,"group":"AM","value":4.3},{"day":5,"group":"AM","value":6},{"day":7,"group":"AM","value":4.3},{"day":10,"group":"AM","value":1.8},{"day":0,"group":"ARF","value":0.9},{"day":3,"group":"ARF","value":2.85},{"day":5,"group":"ARF","value":6.6},{"day":7,"group":"ARF","value":5.4},{"day":10,"group":"ARF","value":6.1}],
"e3e":[{"day":10,"lo":6,"hi":14.4},{"day":7,"lo":1.6,"hi":6.5},{"day":10,"lo":2.8,"hi":9.5},{"day":7,"lo":3.8,"hi":7.1},{"day":5,"lo":5.2,"hi":8},{"day":5,"lo":4.5,"hi":7.5},{"day":3,"lo":2.7,"hi":6.1},{"day":3,"lo":1.2,"hi":4.5},{"day":10,"lo":1,"hi":2.6}],
"s3e":[{"day":10,"y":1,"label":"**","nudge":"right"}],
"go":[{"process":"Immune system process","q":15.1},{"process":"Inflammatory response","q":13.4},{"process":"Cellular response to Lipopolysaccharide","q":10.5},{"process":"Innate immune response","q":10.2},{"process":"Neutrophil chemotaxis","q":8.1},{"process":"Immune response","q":7.2},{"process":"Defense response to bacterium","q":7.0},{"process":"Chemotaxis","q":6.2}]
},
"resolve":{"scale":{"x":"independent","y":"independent","color":"independent","shape":"independent","fill":"independent"}},
"layer":[
{"data":{"name":"Acols"},"transform":[{"filter":"datum.group=='CTRL'"}],"mark":{"type":"rect","stroke":"#c8c8c8","strokeWidth":0.4},"encoding":{"x":{"field":"day","type":"nominal","sort":null,"scale":{"range":[41.3,90]},"axis":{"orient":"top","labels":false,"ticks":false,"domain":false,"title":"A","titleX":24,"titleY":14,"titleFontSize":17,"titleColor":"#000","titleAngle":0,"titleAlign":"center","titleBaseline":"alphabetic"}},"y":{"datum":"Group","scale":{"domain":["Group"],"range":[14,20.3]},"axis":null},"color":{"field":"group","type":"nominal","scale":{"domain":["CTRL","ARF","AM"],"range":["#DBA800","#12C8F0","#0CCFA8"]},"legend":{"orient":"none","legendX":232,"legendY":12,"title":"Group"}}}},
{"data":{"name":"Acols"},"transform":[{"filter":"datum.group=='ARF'"}],"mark":{"type":"rect","stroke":"#c8c8c8","strokeWidth":0.4},"encoding":{"x":{"field":"day","type":"nominal","sort":null,"scale":{"range":[92,140.7]},"axis":null},"y":{"datum":"Group","scale":{"domain":["Group"],"range":[14,20.3]},"axis":null},"color":{"field":"group","type":"nominal","scale":{"domain":["CTRL","ARF","AM"],"range":["#DBA800","#12C8F0","#0CCFA8"]},"legend":null}}},
{"data":{"name":"Acols"},"transform":[{"filter":"datum.group=='AM'"}],"mark":{"type":"rect","stroke":"#c8c8c8","strokeWidth":0.4},"encoding":{"x":{"field":"day","type":"nominal","sort":null,"scale":{"range":[142.7,191.5]},"axis":null},"y":{"datum":"Group","scale":{"domain":["Group"],"range":[14,20.3]},"axis":{"orient":"right","offset":-530.5,"title":null,"domain":false,"ticks":false,"labelFontSize":6.5,"labelPadding":0}},"color":{"field":"group","type":"nominal","scale":{"domain":["CTRL","ARF","AM"],"range":["#DBA800","#12C8F0","#0CCFA8"]},"legend":null}}},
{"data":{"name":"Acols"},"transform":[{"filter":"datum.group=='CTRL'"}],"mark":{"type":"rect","stroke":"#c8c8c8","strokeWidth":0.4},"encoding":{"x":{"field":"day","type":"nominal","sort":null,"scale":{"range":[41.3,90]},"axis":null},"y":{"datum":"Day","scale":{"domain":["Day"],"range":[21,28]},"axis":null},"color":{"field":"day","type":"nominal","scale":{"domain":["3 d","5 d","7 d","10 d"],"range":["#B8A6EC","#FA8C84","#F57FE8","#76C80C"]},"legend":{"orient":"none","legendX":232,"legendY":53,"title":"Day"}}}},
{"data":{"name":"Acols"},"transform":[{"filter":"datum.group=='ARF'"}],"mark":{"type":"rect","stroke":"#c8c8c8","strokeWidth":0.4},"encoding":{"x":{"field":"day","type":"nominal","sort":null,"scale":{"range":[92,140.7]},"axis":null},"y":{"datum":"Day","scale":{"domain":["Day"],"range":[21,28]},"axis":null},"color":{"field":"day","type":"nominal","scale":{"domain":["3 d","5 d","7 d","10 d"],"range":["#B8A6EC","#FA8C84","#F57FE8","#76C80C"]},"legend":null}}},
{"data":{"name":"Acols"},"transform":[{"filter":"datum.group=='AM'"}],"mark":{"type":"rect","stroke":"#c8c8c8","strokeWidth":0.4},"encoding":{"x":{"field":"day","type":"nominal","sort":null,"scale":{"range":[142.7,191.5]},"axis":null},"y":{"datum":"Day","scale":{"domain":["Day"],"range":[21,28]},"axis":{"orient":"right","offset":-530.5,"title":null,"domain":false,"ticks":false,"labelFontSize":6.5,"labelPadding":0}},"color":{"field":"day","type":"nominal","scale":{"domain":["3 d","5 d","7 d","10 d"],"range":["#B8A6EC","#FA8C84","#F57FE8","#76C80C"]},"legend":null}}},
{"data":{"name":"A1"},"transform":[{"filter":"datum.group=='CTRL'"}],"mark":{"type":"rect","stroke":"#b9b9c9","strokeWidth":0.5},"encoding":{"x":{"field":"day","type":"nominal","sort":null,"scale":{"range":[41.3,90]},"axis":null},"y":{"field":"gene","type":"nominal","sort":null,"scale":{"range":[29,113]},"axis":null},"color":{"field":"z","type":"quantitative","scale":{"domain":[-2,0,2],"range":["#0000ff","#ffffff","#ff0000"],"interpolate":"rgb"},"legend":{"orient":"none","legendX":215,"legendY":13.3,"title":null,"type":"gradient","gradientLength":91,"gradientThickness":6,"values":[-2,-1,0,1,2],"labelFontSize":6}}}},
{"data":{"name":"A1"},"transform":[{"filter":"datum.group=='ARF'"}],"mark":{"type":"rect","stroke":"#b9b9c9","strokeWidth":0.5},"encoding":{"x":{"field":"day","type":"nominal","sort":null,"scale":{"range":[92,140.7]},"axis":null},"y":{"field":"gene","type":"nominal","sort":null,"scale":{"range":[29,113]},"axis":null},"color":{"field":"z","type":"quantitative","scale":{"domain":[-2,0,2],"range":["#0000ff","#ffffff","#ff0000"],"interpolate":"rgb"},"legend":null}}},
{"data":{"name":"A1"},"transform":[{"filter":"datum.group=='AM'"}],"mark":{"type":"rect","stroke":"#b9b9c9","strokeWidth":0.5},"encoding":{"x":{"field":"day","type":"nominal","sort":null,"scale":{"range":[142.7,191.5]},"axis":null},"y":{"field":"gene","type":"nominal","sort":null,"scale":{"range":[29,113]},"axis":{"orient":"right","offset":-530.5,"title":null,"domain":false,"ticks":false,"labelFontSize":6,"labelFontWeight":"normal","labelPadding":0}},"color":{"field":"z","type":"quantitative","scale":{"domain":[-2,0,2],"range":["#0000ff","#ffffff","#ff0000"],"interpolate":"rgb"},"legend":null}}},
{"data":{"name":"A2"},"transform":[{"filter":"datum.group=='CTRL'"}],"mark":{"type":"rect","stroke":"#b9b9c9","strokeWidth":0.5},"encoding":{"x":{"field":"day","type":"nominal","sort":null,"scale":{"range":[41.3,90]},"axis":null},"y":{"field":"gene","type":"nominal","sort":null,"scale":{"range":[116,176]},"axis":null},"color":{"field":"z","type":"quantitative","scale":{"domain":[-2,0,2],"range":["#0000ff","#ffffff","#ff0000"],"interpolate":"rgb"},"legend":null}}},
{"data":{"name":"A2"},"transform":[{"filter":"datum.group=='ARF'"}],"mark":{"type":"rect","stroke":"#b9b9c9","strokeWidth":0.5},"encoding":{"x":{"field":"day","type":"nominal","sort":null,"scale":{"range":[92,140.7]},"axis":null},"y":{"field":"gene","type":"nominal","sort":null,"scale":{"range":[116,176]},"axis":null},"color":{"field":"z","type":"quantitative","scale":{"domain":[-2,0,2],"range":["#0000ff","#ffffff","#ff0000"],"interpolate":"rgb"},"legend":null}}},
{"data":{"name":"A2"},"transform":[{"filter":"datum.group=='AM'"}],"mark":{"type":"rect","stroke":"#b9b9c9","strokeWidth":0.5},"encoding":{"x":{"field":"day","type":"nominal","sort":null,"scale":{"range":[142.7,191.5]},"axis":null},"y":{"field":"gene","type":"nominal","sort":null,"scale":{"range":[116,176]},"axis":{"orient":"right","offset":-530.5,"title":null,"domain":false,"ticks":false,"labelFontSize":6,"labelFontWeight":"normal","labelPadding":0}},"color":{"field":"z","type":"quantitative","scale":{"domain":[-2,0,2],"range":["#0000ff","#ffffff","#ff0000"],"interpolate":"rgb"},"legend":null}}},

{"data":{"name":"Bcols"},"transform":[{"filter":"datum.group=='CTRL'"}],"mark":{"type":"rect","stroke":"#c8c8c8","strokeWidth":0.4},"encoding":{"x":{"field":"rep","type":"ordinal","sort":null,"scale":{"range":[314.7,351.7]},"axis":{"orient":"top","labels":false,"ticks":false,"domain":false,"title":"B","titleX":292.5,"titleY":14,"titleFontSize":17,"titleColor":"#000","titleAngle":0,"titleAlign":"center","titleBaseline":"alphabetic"}},"y":{"datum":"Group","scale":{"domain":["Group"],"range":[14.7,21.3]},"axis":null},"color":{"field":"group","type":"nominal","scale":{"domain":["CTRL","ARF","AM"],"range":["#FA8B80","#D89CF0","#14CDD4"]},"legend":{"orient":"none","legendX":473,"legendY":12,"title":"Group"}}}},
{"data":{"name":"Bcols"},"transform":[{"filter":"datum.group=='ARF'"}],"mark":{"type":"rect","stroke":"#c8c8c8","strokeWidth":0.4},"encoding":{"x":{"field":"rep","type":"ordinal","sort":null,"scale":{"range":[354.3,391]},"axis":null},"y":{"datum":"Group","scale":{"domain":["Group"],"range":[14.7,21.3]},"axis":null},"color":{"field":"group","type":"nominal","scale":{"domain":["CTRL","ARF","AM"],"range":["#FA8B80","#D89CF0","#14CDD4"]},"legend":null}}},
{"data":{"name":"Bcols"},"transform":[{"filter":"datum.group=='AM'"}],"mark":{"type":"rect","stroke":"#c8c8c8","strokeWidth":0.4},"encoding":{"x":{"field":"rep","type":"ordinal","sort":null,"scale":{"range":[393.3,430]},"axis":null},"y":{"datum":"Group","scale":{"domain":["Group"],"range":[14.7,21.3]},"axis":{"orient":"right","offset":-291.5,"title":null,"domain":false,"ticks":false,"labelFontSize":6.5,"labelPadding":0}},"color":{"field":"group","type":"nominal","scale":{"domain":["CTRL","ARF","AM"],"range":["#FA8B80","#D89CF0","#14CDD4"]},"legend":null}}},
{"data":{"name":"Bcols"},"transform":[{"filter":"datum.group=='CTRL'"}],"mark":{"type":"rect","stroke":"#c8c8c8","strokeWidth":0.4},"encoding":{"x":{"field":"rep","type":"ordinal","sort":null,"scale":{"range":[314.7,351.7]},"axis":null},"y":{"datum":"Day","scale":{"domain":["Day"],"range":[22,28.7]},"axis":null},"color":{"field":"day","type":"nominal","scale":{"domain":["5 d"],"range":["#90B808"]},"legend":{"orient":"none","legendX":473,"legendY":53,"title":"Day"}}}},
{"data":{"name":"Bcols"},"transform":[{"filter":"datum.group=='ARF'"}],"mark":{"type":"rect","stroke":"#c8c8c8","strokeWidth":0.4},"encoding":{"x":{"field":"rep","type":"ordinal","sort":null,"scale":{"range":[354.3,391]},"axis":null},"y":{"datum":"Day","scale":{"domain":["Day"],"range":[22,28.7]},"axis":null},"color":{"field":"day","type":"nominal","scale":{"domain":["5 d"],"range":["#90B808"]},"legend":null}}},
{"data":{"name":"Bcols"},"transform":[{"filter":"datum.group=='AM'"}],"mark":{"type":"rect","stroke":"#c8c8c8","strokeWidth":0.4},"encoding":{"x":{"field":"rep","type":"ordinal","sort":null,"scale":{"range":[393.3,430]},"axis":null},"y":{"datum":"Day","scale":{"domain":["Day"],"range":[22,28.7]},"axis":{"orient":"right","offset":-291.5,"title":null,"domain":false,"ticks":false,"labelFontSize":6.5,"labelPadding":0}},"color":{"field":"day","type":"nominal","scale":{"domain":["5 d"],"range":["#90B808"]},"legend":null}}},
{"data":{"name":"Chem"},"transform":[{"filter":"datum.group=='CTRL'"}],"mark":{"type":"rect","stroke":"#b9b9c9","strokeWidth":0.5},"encoding":{"x":{"field":"rep","type":"ordinal","sort":null,"scale":{"range":[314.7,351.7]},"axis":null},"y":{"field":"gene","type":"nominal","sort":null,"scale":{"range":[30.7,104]},"axis":{"orient":"left","labels":false,"ticks":false,"domain":false,"title":"Chemokines","titleX":305,"titleY":63.5,"titleFontSize":10,"titleFont":"Open Sans","titleColor":"#111","titleAlign":"center"}},"color":{"field":"z","type":"quantitative","scale":{"domain":[-2,0,2],"range":["#0000ff","#ffffff","#ff0000"],"interpolate":"rgb"},"legend":{"orient":"none","legendX":455.3,"legendY":14,"title":null,"type":"gradient","gradientLength":92,"gradientThickness":6.4,"values":[-2,-1,0,1,2],"labelFontSize":6}}}},
{"data":{"name":"Chem"},"transform":[{"filter":"datum.group=='ARF'"}],"mark":{"type":"rect","stroke":"#b9b9c9","strokeWidth":0.5},"encoding":{"x":{"field":"rep","type":"ordinal","sort":null,"scale":{"range":[354.3,391]},"axis":null},"y":{"field":"gene","type":"nominal","sort":null,"scale":{"range":[30.7,104]},"axis":null},"color":{"field":"z","type":"quantitative","scale":{"domain":[-2,0,2],"range":["#0000ff","#ffffff","#ff0000"],"interpolate":"rgb"},"legend":null}}},
{"data":{"name":"Chem"},"transform":[{"filter":"datum.group=='AM'"}],"mark":{"type":"rect","stroke":"#b9b9c9","strokeWidth":0.5},"encoding":{"x":{"field":"rep","type":"ordinal","sort":null,"scale":{"range":[393.3,430]},"axis":null},"y":{"field":"gene","type":"nominal","sort":null,"scale":{"range":[30.7,104]},"axis":{"orient":"right","offset":-291.5,"title":null,"domain":false,"ticks":false,"labelFontSize":6,"labelFontWeight":"normal","labelPadding":0}},"color":{"field":"z","type":"quantitative","scale":{"domain":[-2,0,2],"range":["#0000ff","#ffffff","#ff0000"],"interpolate":"rgb"},"legend":null}}},

{"data":{"name":"Bcols"},"transform":[{"filter":"datum.group=='CTRL'"}],"mark":{"type":"rect","stroke":"#c8c8c8","strokeWidth":0.4},"encoding":{"x":{"field":"rep","type":"ordinal","sort":null,"scale":{"range":[523.3,559]},"axis":null},"y":{"datum":"Group","scale":{"domain":["Group"],"range":[14,20]},"axis":null},"color":{"field":"group","type":"nominal","scale":{"domain":["CTRL","ARF","AM"],"range":["#FA8B80","#D89CF0","#14CDD4"]},"legend":{"orient":"none","legendX":681,"legendY":12,"title":"Group"}}}},
{"data":{"name":"Bcols"},"transform":[{"filter":"datum.group=='ARF'"}],"mark":{"type":"rect","stroke":"#c8c8c8","strokeWidth":0.4},"encoding":{"x":{"field":"rep","type":"ordinal","sort":null,"scale":{"range":[561.3,597]},"axis":null},"y":{"datum":"Group","scale":{"domain":["Group"],"range":[14,20]},"axis":null},"color":{"field":"group","type":"nominal","scale":{"domain":["CTRL","ARF","AM"],"range":["#FA8B80","#D89CF0","#14CDD4"]},"legend":null}}},
{"data":{"name":"Bcols"},"transform":[{"filter":"datum.group=='AM'"}],"mark":{"type":"rect","stroke":"#c8c8c8","strokeWidth":0.4},"encoding":{"x":{"field":"rep","type":"ordinal","sort":null,"scale":{"range":[599.3,635]},"axis":null},"y":{"datum":"Group","scale":{"domain":["Group"],"range":[14,20]},"axis":{"orient":"right","offset":-87,"title":null,"domain":false,"ticks":false,"labelFontSize":6.5,"labelPadding":0}},"color":{"field":"group","type":"nominal","scale":{"domain":["CTRL","ARF","AM"],"range":["#FA8B80","#D89CF0","#14CDD4"]},"legend":null}}},
{"data":{"name":"Bcols"},"transform":[{"filter":"datum.group=='CTRL'"}],"mark":{"type":"rect","stroke":"#c8c8c8","strokeWidth":0.4},"encoding":{"x":{"field":"rep","type":"ordinal","sort":null,"scale":{"range":[523.3,559]},"axis":null},"y":{"datum":"Day","scale":{"domain":["Day"],"range":[21.3,28]},"axis":null},"color":{"field":"day","type":"nominal","scale":{"domain":["5 d"],"range":["#90B808"]},"legend":{"orient":"none","legendX":681,"legendY":53,"title":"Day"}}}},
{"data":{"name":"Bcols"},"transform":[{"filter":"datum.group=='ARF'"}],"mark":{"type":"rect","stroke":"#c8c8c8","strokeWidth":0.4},"encoding":{"x":{"field":"rep","type":"ordinal","sort":null,"scale":{"range":[561.3,597]},"axis":null},"y":{"datum":"Day","scale":{"domain":["Day"],"range":[21.3,28]},"axis":null},"color":{"field":"day","type":"nominal","scale":{"domain":["5 d"],"range":["#90B808"]},"legend":null}}},
{"data":{"name":"Bcols"},"transform":[{"filter":"datum.group=='AM'"}],"mark":{"type":"rect","stroke":"#c8c8c8","strokeWidth":0.4},"encoding":{"x":{"field":"rep","type":"ordinal","sort":null,"scale":{"range":[599.3,635]},"axis":null},"y":{"datum":"Day","scale":{"domain":["Day"],"range":[21.3,28]},"axis":{"orient":"right","offset":-87,"title":null,"domain":false,"ticks":false,"labelFontSize":6.5,"labelPadding":0}},"color":{"field":"day","type":"nominal","scale":{"domain":["5 d"],"range":["#90B808"]},"legend":null}}},
{"data":{"name":"Oth"},"transform":[{"filter":"datum.group=='CTRL'"}],"mark":{"type":"rect","stroke":"#b9b9c9","strokeWidth":0.5},"encoding":{"x":{"field":"rep","type":"ordinal","sort":null,"scale":{"range":[523.3,559]},"axis":null},"y":{"field":"gene","type":"nominal","sort":null,"scale":{"range":[29.3,320.3]},"axis":{"orient":"left","labels":false,"ticks":false,"domain":false,"title":"Others","titleX":513,"titleY":153.5,"titleFontSize":10,"titleFont":"Open Sans","titleColor":"#111","titleAlign":"center"}},"color":{"field":"z","type":"quantitative","scale":{"domain":[-2,0,2],"range":["#0000ff","#ffffff","#ff0000"],"interpolate":"rgb"},"legend":{"orient":"none","legendX":663.7,"legendY":13.3,"title":null,"type":"gradient","gradientLength":91,"gradientThickness":6.3,"values":[-2,-1,0,1,2],"labelFontSize":6}}}},
{"data":{"name":"Oth"},"transform":[{"filter":"datum.group=='ARF'"}],"mark":{"type":"rect","stroke":"#b9b9c9","strokeWidth":0.5},"encoding":{"x":{"field":"rep","type":"ordinal","sort":null,"scale":{"range":[561.3,597]},"axis":null},"y":{"field":"gene","type":"nominal","sort":null,"scale":{"range":[29.3,320.3]},"axis":null},"color":{"field":"z","type":"quantitative","scale":{"domain":[-2,0,2],"range":["#0000ff","#ffffff","#ff0000"],"interpolate":"rgb"},"legend":null}}},
{"data":{"name":"Oth"},"transform":[{"filter":"datum.group=='AM'"}],"mark":{"type":"rect","stroke":"#b9b9c9","strokeWidth":0.5},"encoding":{"x":{"field":"rep","type":"ordinal","sort":null,"scale":{"range":[599.3,635]},"axis":null},"y":{"field":"gene","type":"nominal","sort":null,"scale":{"range":[29.3,320.3]},"axis":{"orient":"right","offset":-87,"title":null,"domain":false,"ticks":false,"labelFontSize":6,"labelFontWeight":"normal","labelPadding":0}},"color":{"field":"z","type":"quantitative","scale":{"domain":[-2,0,2],"range":["#0000ff","#ffffff","#ff0000"],"interpolate":"rgb"},"legend":null}}},

{"data":{"name":"go"},"mark":{"type":"bar","color":"#ED7D31"},"encoding":{"x":{"field":"q","type":"quantitative","scale":{"domain":[0,20],"range":[175,403.3],"nice":false},"axis":{"orient":"bottom","offset":-234.7,"values":[0,5,10,15,20],"domainWidth":0.8,"tickWidth":0.8,"domainColor":"#222","tickColor":"#222","title":"-Log₁₀ qvalue","titleX":233,"titleY":-143.3,"titleAngle":0,"titleAlign":"center","titleBaseline":"middle","titleFontSize":7.5,"titleFont":"Open Sans","labelFontSize":7,"labelPadding":4}},"y":{"field":"process","type":"nominal","sort":null,"scale":{"range":[340.8,472.5],"paddingInner":0.636,"paddingOuter":0.318},"axis":{"orient":"left","offset":-175,"domain":false,"ticks":false,"labelFontSize":8.8,"labelFontWeight":"normal","labelFont":"Open Sans","labelPadding":8,"labelLimit":220,"title":"GO biological process","titleAngle":0,"titleX":-10,"titleY":329,"titleAlign":"right","titleBaseline":"middle","titleFont":"Open Sans","titleFontSize":7.5}}}},

{"layer":[
{"data":{"values":[{}]},"mark":{"type":"rect","fill":null,"stroke":"#888","strokeWidth":1.5},"encoding":{"x":{"datum":-32.5,"type":"quantitative","scale":{"domain":[-25.6,25.07],"range":[450.7,655.7],"nice":false,"zero":false}},"x2":{"datum":41.4},"y":{"datum":17.66,"type":"quantitative","scale":{"domain":[-0.8,17.17],"range":[498.3,350],"nice":false,"zero":false}},"y2":{"datum":-3.8}}},
{"data":{"values":[{}]},"mark":{"type":"rect","fill":"#f0f0f0"},"encoding":{"x":{"datum":28.4,"type":"quantitative","scale":{"domain":[-25.6,25.07],"range":[450.7,655.7],"nice":false,"zero":false}},"x2":{"datum":31.08},"y":{"datum":10.1,"type":"quantitative","scale":{"domain":[-0.8,17.17],"range":[498.3,350],"nice":false,"zero":false}},"y2":{"datum":5.66}}},
{"data":{"values":[{}]},"mark":{"type":"rect","fill":null,"stroke":"#666","strokeWidth":1},"encoding":{"x":{"datum":-25.6,"type":"quantitative","scale":{"domain":[-25.6,25.07],"range":[450.7,655.7],"nice":false,"zero":false}},"x2":{"datum":25.07},"y":{"datum":17.17,"type":"quantitative","scale":{"domain":[-0.8,17.17],"range":[498.3,350],"nice":false,"zero":false}},"y2":{"datum":-0.8}}},
{"data":{"name":"volcano"},"mark":{"type":"point","filled":true,"size":11,"opacity":1},"encoding":{"x":{"field":"fc","type":"quantitative","scale":{"domain":[-25.6,25.07],"range":[450.7,655.7],"nice":false,"zero":false},"axis":{"orient":"bottom","offset":-208.7,"values":[-20,-10,0,10,20],"domain":false,"tickColor":"#555","tickWidth":0.8,"tickSize":2.5,"labelFontSize":7.5,"labelColor":"#444","title":"Log2 fold change","titleColor":"#333","titleFontSize":8.5,"titlePadding":2}},"y":{"field":"q","type":"quantitative","scale":{"domain":[-0.8,17.17],"range":[498.3,350],"nice":false,"zero":false},"axis":{"orient":"left","offset":-450.7,"values":[0,5,10,15],"domain":false,"tickColor":"#555","tickWidth":0.8,"tickSize":2.5,"labelFontSize":7.5,"labelColor":"#444","title":"-Log10 qvalue","titleColor":"#333","titleFontSize":8.5,"titlePadding":1.5}},"color":{"field":"status","type":"nominal","scale":{"domain":["DOWN","NOT","UP"],"range":["#0c0c9a","#bdbdbd","#cf1515"]},"legend":{"orient":"none","legendX":671,"legendY":412,"title":null,"symbolType":"circle","symbolSize":14,"labelFontSize":8,"labelFontWeight":"bold","labelColor":"#111","labelOffset":7,"rowPadding":2.5}}}},
{"data":{"values":[{}]},"mark":{"type":"rule","color":"#111","strokeWidth":0.8,"strokeDash":[5,2,1,2]},"encoding":{"x":{"datum":-25.6,"type":"quantitative","scale":{"domain":[-25.6,25.07],"range":[450.7,655.7],"nice":false,"zero":false}},"x2":{"datum":25.07},"y":{"datum":1.33,"type":"quantitative","scale":{"domain":[-0.8,17.17],"range":[498.3,350],"nice":false,"zero":false}}}},
{"data":{"values":[{}]},"mark":{"type":"text","text":"C","fontSize":17,"fontWeight":"bold","color":"#000"},"encoding":{"x":{"datum":-130.4,"type":"quantitative","scale":{"domain":[-25.6,25.07],"range":[450.7,655.7],"nice":false,"zero":false}},"y":{"datum":23.1,"type":"quantitative","scale":{"domain":[-0.8,17.17],"range":[498.3,350],"nice":false,"zero":false}}}}
]},

{"layer":[
{"data":{"name":"e68"},"mark":{"type":"errorbar","ticks":{"size":5,"color":"#b5b5b5"},"rule":{"color":"#b5b5b5","strokeWidth":0.8}},"encoding":{"x":{"field":"day","type":"ordinal","scale":{"type":"point","domain":[0,3,5,7,10],"range":[69.3,205],"padding":0}},"y":{"field":"lo","type":"quantitative","title":"Relative mRNA level","scale":{"domain":[0,50],"range":[680,590],"nice":false}},"y2":{"field":"hi"}}},
{"data":{"name":"d68"},"mark":{"type":"line","strokeWidth":1.2},"encoding":{"x":{"field":"day","type":"ordinal","scale":{"type":"point","domain":[0,3,5,7,10],"range":[69.3,205],"padding":0},"axis":{"orient":"bottom","offset":-27,"title":"Days","labelAngle":0,"titlePadding":4}},"y":{"field":"value","type":"quantitative","scale":{"domain":[0,50],"range":[680,590],"nice":false},"axis":{"orient":"left","offset":-69.3,"title":"Relative mRNA level","values":[0,10,20,30,40,50]}},"color":{"field":"group","type":"nominal","scale":{"domain":["AM","ARF","CTRL"],"range":["#d9454f","#a6a6a6","#4a4ac8"]},"legend":null}}},
{"data":{"name":"d68"},"transform":[{"filter":"datum.group!='AM'"}],"mark":{"type":"point","filled":true,"size":14,"shape":"triangle-up","opacity":1},"encoding":{"x":{"field":"day","type":"ordinal","scale":{"type":"point","domain":[0,3,5,7,10],"range":[69.3,205],"padding":0}},"y":{"field":"value","type":"quantitative","scale":{"domain":[0,50],"range":[680,590],"nice":false}},"color":{"field":"group","type":"nominal","scale":{"domain":["AM","ARF","CTRL"],"range":["#d9454f","#a6a6a6","#4a4ac8"]},"legend":null}}},
{"data":{"name":"d68"},"transform":[{"filter":"datum.group=='AM'"}],"mark":{"type":"point","filled":true,"size":14,"shape":"circle","opacity":1},"encoding":{"x":{"field":"day","type":"ordinal","scale":{"type":"point","domain":[0,3,5,7,10],"range":[69.3,205],"padding":0}},"y":{"field":"value","type":"quantitative","scale":{"domain":[0,50],"range":[680,590],"nice":false}},"color":{"field":"group","type":"nominal","scale":{"domain":["AM","ARF","CTRL"],"range":["#d9454f","#a6a6a6","#4a4ac8"]},"legend":null}}},
{"data":{"name":"d68"},"mark":{"type":"point","filled":true,"opacity":1,"size":0},"encoding":{"x":{"field":"day","type":"ordinal","scale":{"type":"point","domain":[0,3,5,7,10],"range":[69.3,205],"padding":0}},"y":{"field":"value","type":"quantitative","scale":{"domain":[0,50],"range":[680,590],"nice":false}},"fill":{"field":"group","type":"nominal","scale":{"domain":["CTRL","AM","ARF"],"range":["#4a4ac8","#d9454f","#a6a6a6"]},"legend":{"orient":"none","legendX":214,"legendY":592,"title":null,"symbolSize":64,"labelFontSize":8,"labelOffset":7,"rowPadding":2.7}},"shape":{"field":"group","type":"nominal","scale":{"domain":["CTRL","AM","ARF"],"range":["M-1,-0.08H1V0.08H-1ZM0,-0.45L0.42,0.3H-0.42Z","M-1,-0.08H1V0.08H-1ZM0.36,0A0.36,0.36,0,1,1,-0.36,0A0.36,0.36,0,1,1,0.36,0Z","M-1,-0.08H1V0.08H-1ZM0,-0.45L0.42,0.3H-0.42Z"]},"legend":{"orient":"none","legendX":214,"legendY":592,"title":null,"symbolSize":64,"labelFontSize":8,"labelOffset":7,"rowPadding":2.7}}}},
{"data":{"name":"s68"},"transform":[{"filter":"datum.nudge=='none'"}],"mark":{"type":"text","fontSize":11,"fontWeight":"bold","color":"#111","baseline":"middle","dy":3},"encoding":{"x":{"field":"day","type":"ordinal","scale":{"type":"point","domain":[0,3,5,7,10],"range":[69.3,205],"padding":0}},"y":{"field":"y","type":"quantitative","scale":{"domain":[0,50],"range":[680,590],"nice":false}},"text":{"field":"label"}}},
{"data":{"name":"s68"},"transform":[{"filter":"datum.nudge=='right'"}],"mark":{"type":"text","fontSize":11,"fontWeight":"bold","color":"#111","baseline":"middle","dy":3,"dx":9},"encoding":{"x":{"field":"day","type":"ordinal","scale":{"type":"point","domain":[0,3,5,7,10],"range":[69.3,205],"padding":0}},"y":{"field":"y","type":"quantitative","scale":{"domain":[0,50],"range":[680,590],"nice":false}},"text":{"field":"label"}}},
{"data":{"values":[{}]},"mark":{"type":"text","text":"CD68","fontSize":8.5,"fontWeight":"bold","color":"#222"},"encoding":{"x":{"datum":5,"type":"ordinal","scale":{"type":"point","domain":[0,3,5,7,10],"range":[69.3,205],"padding":0}},"y":{"datum":56.1,"type":"quantitative","scale":{"domain":[0,50],"range":[680,590],"nice":false}}}},
{"data":{"values":[{}]},"mark":{"type":"text","text":"D","fontSize":17,"fontWeight":"bold","color":"#000","dx":-42},"encoding":{"x":{"datum":0,"type":"ordinal","scale":{"type":"point","domain":[0,3,5,7,10],"range":[69.3,205],"padding":0}},"y":{"datum":70.6,"type":"quantitative","scale":{"domain":[0,50],"range":[680,590],"nice":false}}}}
]},

{"layer":[
{"data":{"name":"e86"},"mark":{"type":"errorbar","ticks":{"size":5,"color":"#b5b5b5"},"rule":{"color":"#b5b5b5","strokeWidth":0.8}},"encoding":{"x":{"field":"day","type":"ordinal","scale":{"type":"point","domain":[0,3,5,7,10],"range":[283.3,422.3],"padding":0}},"y":{"field":"lo","type":"quantitative","title":"Relative mRNA level","scale":{"domain":[0,15],"range":[681.3,588.7],"nice":false}},"y2":{"field":"hi"}}},
{"data":{"name":"d86"},"mark":{"type":"line","strokeWidth":1.2},"encoding":{"x":{"field":"day","type":"ordinal","scale":{"type":"point","domain":[0,3,5,7,10],"range":[283.3,422.3],"padding":0},"axis":{"orient":"bottom","offset":-25.7,"title":"Days","labelAngle":0,"titlePadding":4}},"y":{"field":"value","type":"quantitative","scale":{"domain":[0,15],"range":[681.3,588.7],"nice":false},"axis":{"orient":"left","offset":-283.3,"title":"Relative mRNA level","values":[0,5,10,15]}},"color":{"field":"group","type":"nominal","scale":{"domain":["AM","ARF","CTRL"],"range":["#d9454f","#a6a6a6","#4a4ac8"]},"legend":null}}},
{"data":{"name":"d86"},"transform":[{"filter":"datum.group!='AM'"}],"mark":{"type":"point","filled":true,"size":14,"shape":"triangle-up","opacity":1},"encoding":{"x":{"field":"day","type":"ordinal","scale":{"type":"point","domain":[0,3,5,7,10],"range":[283.3,422.3],"padding":0}},"y":{"field":"value","type":"quantitative","scale":{"domain":[0,15],"range":[681.3,588.7],"nice":false}},"color":{"field":"group","type":"nominal","scale":{"domain":["AM","ARF","CTRL"],"range":["#d9454f","#a6a6a6","#4a4ac8"]},"legend":null}}},
{"data":{"name":"d86"},"transform":[{"filter":"datum.group=='AM'"}],"mark":{"type":"point","filled":true,"size":14,"shape":"circle","opacity":1},"encoding":{"x":{"field":"day","type":"ordinal","scale":{"type":"point","domain":[0,3,5,7,10],"range":[283.3,422.3],"padding":0}},"y":{"field":"value","type":"quantitative","scale":{"domain":[0,15],"range":[681.3,588.7],"nice":false}},"color":{"field":"group","type":"nominal","scale":{"domain":["AM","ARF","CTRL"],"range":["#d9454f","#a6a6a6","#4a4ac8"]},"legend":null}}},
{"data":{"name":"d86"},"mark":{"type":"point","filled":true,"opacity":1,"size":0},"encoding":{"x":{"field":"day","type":"ordinal","scale":{"type":"point","domain":[0,3,5,7,10],"range":[283.3,422.3],"padding":0}},"y":{"field":"value","type":"quantitative","scale":{"domain":[0,15],"range":[681.3,588.7],"nice":false}},"fill":{"field":"group","type":"nominal","scale":{"domain":["CTRL","AM","ARF"],"range":["#4a4ac8","#d9454f","#a6a6a6"]},"legend":{"orient":"none","legendX":432.7,"legendY":590,"title":null,"symbolSize":100,"labelFontSize":8,"labelOffset":5,"rowPadding":0.8}},"shape":{"field":"group","type":"nominal","scale":{"domain":["CTRL","AM","ARF"],"range":["M-1,-0.06H1V0.06H-1ZM0,-0.36L0.34,0.24H-0.34Z","M-1,-0.06H1V0.06H-1ZM0.3,0A0.3,0.3,0,1,1,-0.3,0A0.3,0.3,0,1,1,0.3,0Z","M-1,-0.06H1V0.06H-1ZM0,-0.36L0.34,0.24H-0.34Z"]},"legend":{"orient":"none","legendX":432.7,"legendY":590,"title":null,"symbolSize":100,"labelFontSize":8,"labelOffset":5,"rowPadding":0.8}}}},
{"data":{"name":"s86"},"transform":[{"filter":"datum.nudge=='none'"}],"mark":{"type":"text","fontSize":11,"fontWeight":"bold","color":"#111","baseline":"middle","dy":3},"encoding":{"x":{"field":"day","type":"ordinal","scale":{"type":"point","domain":[0,3,5,7,10],"range":[283.3,422.3],"padding":0}},"y":{"field":"y","type":"quantitative","scale":{"domain":[0,15],"range":[681.3,588.7],"nice":false}},"text":{"field":"label"}}},
{"data":{"name":"s86"},"transform":[{"filter":"datum.nudge=='right'"}],"mark":{"type":"text","fontSize":11,"fontWeight":"bold","color":"#111","baseline":"middle","dy":3,"dx":9},"encoding":{"x":{"field":"day","type":"ordinal","scale":{"type":"point","domain":[0,3,5,7,10],"range":[283.3,422.3],"padding":0}},"y":{"field":"y","type":"quantitative","scale":{"domain":[0,15],"range":[681.3,588.7],"nice":false}},"text":{"field":"label"}}},
{"data":{"values":[{}]},"mark":{"type":"text","text":"CD86","fontSize":8.5,"fontWeight":"bold","color":"#222"},"encoding":{"x":{"datum":5,"type":"ordinal","scale":{"type":"point","domain":[0,3,5,7,10],"range":[283.3,422.3],"padding":0}},"y":{"datum":16.95,"type":"quantitative","scale":{"domain":[0,15],"range":[681.3,588.7],"nice":false}}}}
]},

{"layer":[
{"data":{"name":"e3e"},"mark":{"type":"errorbar","ticks":{"size":5,"color":"#b5b5b5"},"rule":{"color":"#b5b5b5","strokeWidth":0.8}},"encoding":{"x":{"field":"day","type":"ordinal","scale":{"type":"point","domain":[0,3,5,7,10],"range":[505.7,641.7],"padding":0}},"y":{"field":"lo","type":"quantitative","title":"Relative mRNA level","scale":{"domain":[0,15],"range":[680.3,590],"nice":false}},"y2":{"field":"hi"}}},
{"data":{"name":"d3e"},"mark":{"type":"line","strokeWidth":1.2},"encoding":{"x":{"field":"day","type":"ordinal","scale":{"type":"point","domain":[0,3,5,7,10],"range":[505.7,641.7],"padding":0},"axis":{"orient":"bottom","offset":-26.7,"title":"Days","labelAngle":0,"titlePadding":4}},"y":{"field":"value","type":"quantitative","scale":{"domain":[0,15],"range":[680.3,590],"nice":false},"axis":{"orient":"left","offset":-505.7,"title":"Relative mRNA level","values":[0,5,10,15]}},"color":{"field":"group","type":"nominal","scale":{"domain":["AM","ARF","CTRL"],"range":["#d9454f","#a6a6a6","#4a4ac8"]},"legend":null}}},
{"data":{"name":"d3e"},"transform":[{"filter":"datum.group!='AM'"}],"mark":{"type":"point","filled":true,"size":14,"shape":"triangle-up","opacity":1},"encoding":{"x":{"field":"day","type":"ordinal","scale":{"type":"point","domain":[0,3,5,7,10],"range":[505.7,641.7],"padding":0}},"y":{"field":"value","type":"quantitative","scale":{"domain":[0,15],"range":[680.3,590],"nice":false}},"color":{"field":"group","type":"nominal","scale":{"domain":["AM","ARF","CTRL"],"range":["#d9454f","#a6a6a6","#4a4ac8"]},"legend":null}}},
{"data":{"name":"d3e"},"transform":[{"filter":"datum.group=='AM'"}],"mark":{"type":"point","filled":true,"size":14,"shape":"circle","opacity":1},"encoding":{"x":{"field":"day","type":"ordinal","scale":{"type":"point","domain":[0,3,5,7,10],"range":[505.7,641.7],"padding":0}},"y":{"field":"value","type":"quantitative","scale":{"domain":[0,15],"range":[680.3,590],"nice":false}},"color":{"field":"group","type":"nominal","scale":{"domain":["AM","ARF","CTRL"],"range":["#d9454f","#a6a6a6","#4a4ac8"]},"legend":null}}},
{"data":{"name":"d3e"},"mark":{"type":"point","filled":true,"opacity":1,"size":0},"encoding":{"x":{"field":"day","type":"ordinal","scale":{"type":"point","domain":[0,3,5,7,10],"range":[505.7,641.7],"padding":0}},"y":{"field":"value","type":"quantitative","scale":{"domain":[0,15],"range":[680.3,590],"nice":false}},"fill":{"field":"group","type":"nominal","scale":{"domain":["CTRL","AM","ARF"],"range":["#4a4ac8","#d9454f","#a6a6a6"]},"legend":{"orient":"none","legendX":651.3,"legendY":591.7,"title":null,"symbolSize":100,"labelFontSize":8,"labelOffset":5,"rowPadding":0.8}},"shape":{"field":"group","type":"nominal","scale":{"domain":["CTRL","AM","ARF"],"range":["M-1,-0.06H1V0.06H-1ZM0,-0.36L0.34,0.24H-0.34Z","M-1,-0.06H1V0.06H-1ZM0.3,0A0.3,0.3,0,1,1,-0.3,0A0.3,0.3,0,1,1,0.3,0Z","M-1,-0.06H1V0.06H-1ZM0,-0.36L0.34,0.24H-0.34Z"]},"legend":{"orient":"none","legendX":651.3,"legendY":591.7,"title":null,"symbolSize":100,"labelFontSize":8,"labelOffset":5,"rowPadding":0.8}}}},
{"data":{"name":"s3e"},"mark":{"type":"text","fontSize":11,"fontWeight":"bold","color":"#111","baseline":"middle","dy":3,"dx":9},"encoding":{"x":{"field":"day","type":"ordinal","scale":{"type":"point","domain":[0,3,5,7,10],"range":[505.7,641.7],"padding":0}},"y":{"field":"y","type":"quantitative","scale":{"domain":[0,15],"range":[680.3,590],"nice":false}},"text":{"field":"label"}}},
{"data":{"values":[{}]},"mark":{"type":"text","text":"CD3e","fontSize":8.5,"fontWeight":"bold","color":"#222"},"encoding":{"x":{"datum":5,"type":"ordinal","scale":{"type":"point","domain":[0,3,5,7,10],"range":[505.7,641.7],"padding":0}},"y":{"datum":16.94,"type":"quantitative","scale":{"domain":[0,15],"range":[680.3,590],"nice":false}}}}
]}
]}
